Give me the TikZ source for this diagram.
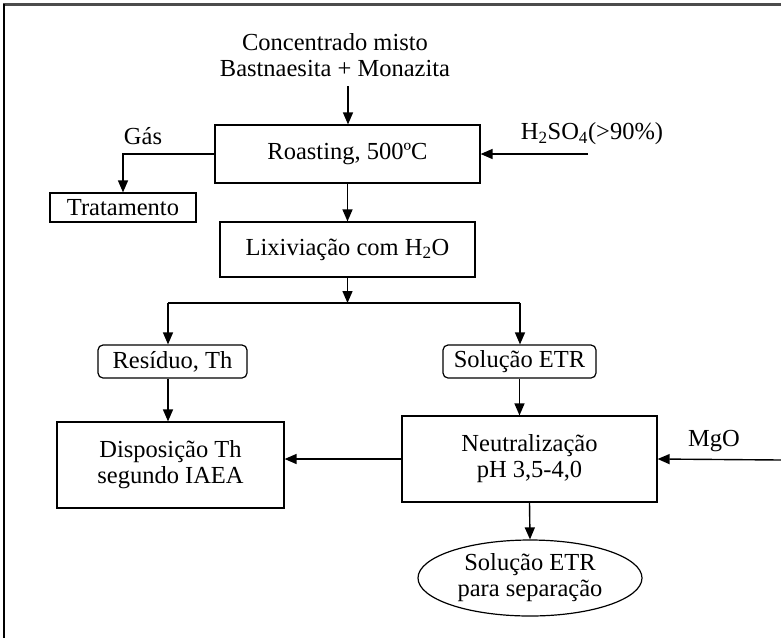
\documentclass[tikz,border=0pt]{standalone}
\usepackage{fontspec}
\setmainfont{Liberation Serif}
\usetikzlibrary{arrows.meta,shapes.geometric}
\begin{document}
\begin{tikzpicture}[x=1pt,y=-1pt,
  every node/.style={font=\fontsize{24.5}{26}\selectfont},
  box/.style={draw, line width=1.2pt, rectangle, inner sep=0pt, align=center},
  rbox/.style={box, rounded corners=5pt},
  ebox/.style={draw, line width=1.2pt, ellipse, inner sep=0pt, align=center},
  lbl/.style={inner sep=0pt, align=center},
  arr/.style={line width=1.4pt, -{Triangle[length=12pt,width=10pt]}},
  ln/.style={line width=1.4pt}]
\useasboundingbox (0,0) rectangle (781,638);
\draw[line width=3pt, black!70] (3,4) -- (781,4);
\draw[line width=2pt] (4,4) -- (4,638);

\node[lbl] (top) at (335,55) {Concentrado misto\\Bastnaesita + Monazita};
\node[box, minimum width=265pt, minimum height=58pt] (roast) at (347.5,154) {Roasting, 500ºC};
\node[box, minimum width=146pt, minimum height=29pt] (trat) at (123,207.5) {Tratamento};
\node[lbl] (gas) at (143,136) {Gás};
\node[lbl] (h2so4) at (592,134) {H\textsubscript{2}SO\textsubscript{4}(>90\%)};
\node[box, minimum width=255pt, minimum height=55pt] (lix) at (347.5,249.5) {Lixiviação com H\textsubscript{2}O};
\node[rbox, minimum width=149pt, minimum height=33pt] (res) at (172.5,361.5) {Resíduo, Th};
\node[rbox, minimum width=153pt, minimum height=33pt] (sol) at (519.5,361.5) {Solução ETR};
\node[box, minimum width=227pt, minimum height=86pt] (disp) at (170.5,465) {Disposição Th\\segundo IAEA};
\node[box, minimum width=255pt, minimum height=86pt] (neut) at (529.5,459) {Neutralização\\pH 3,5-4,0};
\node[lbl] (mgo) at (714,441) {MgO};
\node[ebox, minimum width=224pt, minimum height=76pt] (ell) at (530,578) {Solução ETR\\para separação};

\coordinate (src) at (348,86);
\coordinate (h2in) at (588,154);
\coordinate (mgin) at (781,460);
\coordinate (split) at (347.5,303);
\coordinate (lb) at (168,303);
\coordinate (rb) at (520,303);

\draw[arr] (src) -- (src |- roast.north);
\draw[arr] (roast.west) -| (trat.north);
\draw[arr] (h2in) -- (roast.east);
\draw[arr] (roast.south) -- (lix.north);
\draw[arr] (lix.south) -- (split);
\draw[ln] (lb) -- (rb);
\draw[arr] (lb) -- (lb |- res.north);
\draw[arr] (rb) -- (rb |- sol.north);
\draw[arr] (lb |- res.south) -- (lb |- disp.north);
\draw[arr] (sol.south) -- (sol.south |- neut.north);
\draw[arr] (neut.west) -- (neut.west -| disp.east);
\draw[arr] (mgin) -- (neut.east);
\draw[arr] (neut.south) -- (ell.north);
\end{tikzpicture}
\end{document}
